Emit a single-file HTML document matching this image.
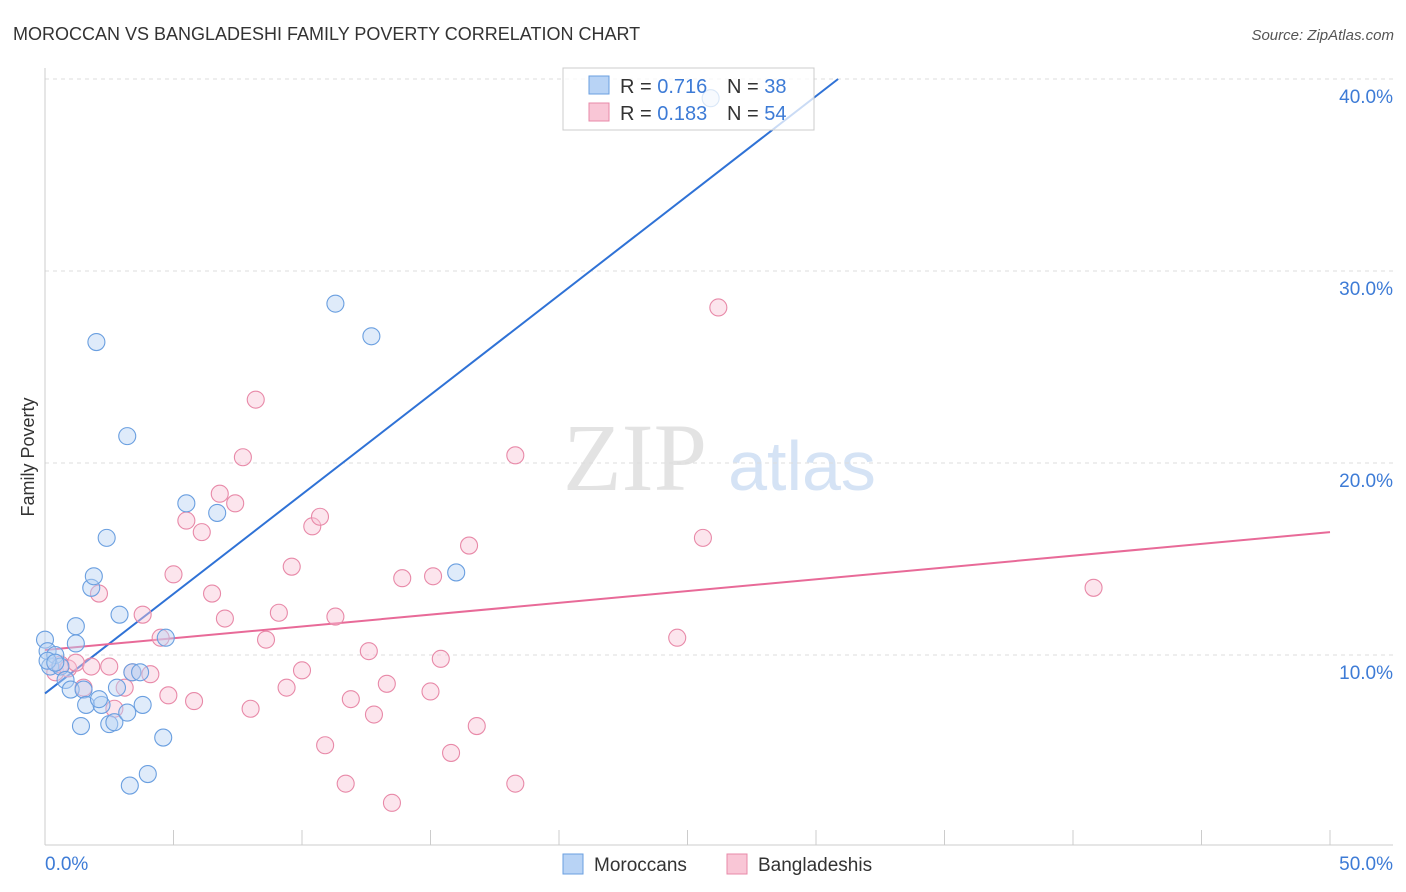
<!DOCTYPE html>
<html><head><meta charset="utf-8"><style>
body{margin:0;background:#fff;font-family:"Liberation Sans",sans-serif;}
svg{display:block}
</style></head><body>
<svg id="chart" width="1406" height="892">
<text x="13" y="40" font-size="18" fill="#333">MOROCCAN VS BANGLADESHI FAMILY POVERTY CORRELATION CHART</text>
<text x="1394" y="40" font-size="15" fill="#555" font-style="italic" text-anchor="end">Source: ZipAtlas.com</text>
<text x="34" y="457" font-size="18" fill="#333" transform="rotate(-90 34 457)" text-anchor="middle">Family Poverty</text>
<g>
<text x="635" y="490" font-size="96" fill="#e3e3e3" font-family="Liberation Serif,serif" text-anchor="middle">ZIP</text>
<text x="802" y="490" font-size="70" fill="#d5e3f5" text-anchor="middle">atlas</text>
</g>
<g id="grid"></g><g id="axes"></g><g id="lines"></g><g id="pts"></g>
<g>
<rect x="563" y="68" width="251" height="62" fill="#fff" fill-opacity="0.75" stroke="#ccc"/>
<rect x="589" y="76" width="20" height="18" fill="#b8d3f5" stroke="#6a9fe0"/>
<rect x="589" y="103" width="20" height="18" fill="#f9c6d6" stroke="#e889a8"/>
<text x="620" y="93" font-size="20" fill="#333">R = <tspan fill="#3d7bd6">0.716</tspan></text>
<text x="727" y="93" font-size="20" fill="#333">N = <tspan fill="#3d7bd6">38</tspan></text>
<text x="620" y="120" font-size="20" fill="#333">R = <tspan fill="#3d7bd6">0.183</tspan></text>
<text x="727" y="120" font-size="20" fill="#333">N = <tspan fill="#3d7bd6">54</tspan></text>
</g>
<g>
<rect x="563" y="854" width="20" height="20" fill="#b8d3f5" stroke="#6a9fe0"/>
<text x="594" y="871" font-size="19" fill="#333">Moroccans</text>
<rect x="727" y="854" width="20" height="20" fill="#f9c6d6" stroke="#e889a8"/>
<text x="758" y="871" font-size="19" fill="#333">Bangladeshis</text>
</g>
</svg>
<script>
const blueX=[0.0,0.1,0.2,0.4,0.6,0.8,1.0,1.2,1.2,1.4,1.5,1.6,1.8,1.9,2.0,2.2,2.4,2.5,2.7,2.8,2.9,3.2,3.2,3.3,3.4,3.7,3.8,4.0,4.6,4.7,5.5,6.7,11.3,12.7,16.0,0.1,2.1,0.4,25.9];
const blueY=[10.8,10.2,9.4,10.0,9.4,8.7,8.2,10.6,11.5,6.3,8.2,7.4,13.5,14.1,26.3,7.4,16.1,6.4,6.5,8.3,12.1,21.4,7.0,3.2,9.1,9.1,7.4,3.8,5.7,10.9,17.9,17.4,28.3,26.6,14.3,9.7,7.7,9.6,39.0];
const pinkX=[0.4,0.6,0.9,1.2,1.5,1.8,2.1,2.5,2.7,3.1,3.4,3.8,4.1,4.5,4.8,5.0,5.5,5.8,6.1,6.5,6.8,7.0,7.4,7.7,8.0,8.2,8.6,9.1,9.4,9.6,10.0,10.4,10.7,10.9,11.3,11.7,11.9,12.6,12.8,13.3,13.5,13.9,15.0,15.1,15.4,15.8,16.5,16.8,18.3,18.3,24.6,25.6,26.2,40.8];
const pinkY=[9.1,9.5,9.3,9.6,8.3,9.4,13.2,9.4,7.2,8.3,9.1,12.1,9.0,10.9,7.9,14.2,17.0,7.6,16.4,13.2,18.4,11.9,17.9,20.3,7.2,23.3,10.8,12.2,8.3,14.6,9.2,16.7,17.2,5.3,12.0,3.3,7.7,10.2,6.9,8.5,2.3,14.0,8.1,14.1,9.8,4.9,15.7,6.3,20.4,3.3,10.9,16.1,28.1,13.5];
const blueLine=[0,8.0,30.86,40.0];
const pinkLine=[0,10.26,50,16.4];
const yTicks=[10,20,30,40];
const xTicks=[0,5,10,15,20,25,30,35,40,45,50];
const NS="http://www.w3.org/2000/svg";
const sx=v=>45+v*25.7, sy=v=>847-v*19.2;
function mk(p,t,a){const e=document.createElementNS(NS,t);for(const k in a)e.setAttribute(k,a[k]);p.appendChild(e);return e;}
const grid=document.getElementById('grid'),axes=document.getElementById('axes'),lines=document.getElementById('lines'),pts=document.getElementById('pts');
yTicks.forEach(t=>{
 const l=mk(grid,'line',{x1:45,x2:1393,y1:sy(t),y2:sy(t),stroke:'#ddd','stroke-dasharray':'4,4'});
 
 
 const tx=mk(axes,'text',{x:1393,y:sy(t)+24,'font-size':19,fill:'#3d7bd6','text-anchor':'end'});
 tx.textContent=t.toFixed(1)+'%';
 
 
});
const ax=mk(axes,'line',{x1:45,x2:1393,y1:845,y2:845,stroke:'#ccc'});


const ay=mk(axes,'line',{x1:45,x2:45,y1:68,y2:845,stroke:'#ccc'});


xTicks.forEach(t=>{
 const l=mk(axes,'line',{x1:sx(t),x2:sx(t),y1:830,y2:845,stroke:'#ccc'});
 
 
});
[[0,'start',45],[50,'end',1393]].forEach(([v,a,x])=>{
 const tx=mk(axes,'text',{x:x,y:870,'font-size':19,fill:'#3d7bd6','text-anchor':a});
 tx.textContent=v.toFixed(1)+'%';
 
 
});
function pt(xs,ys,fill,stroke,name){
 xs.forEach((x,i)=>{
  const c=mk(pts,'circle',{cx:sx(x),cy:sy(ys[i]),r:8.5,fill:fill,'fill-opacity':0.45,stroke:stroke,'stroke-width':1.1});
  
  
 });
}
pt(pinkX,pinkY,'#f9c6d6','#e889a8','bangladeshi-point');
pt(blueX,blueY,'#b8d3f5','#6a9fe0','moroccan-point');
const bl=mk(lines,'line',{x1:sx(blueLine[0]),y1:sy(blueLine[1]),x2:sx(blueLine[2]),y2:sy(blueLine[3]),stroke:'#2f72d6','stroke-width':2});


const pl=mk(lines,'line',{x1:sx(pinkLine[0]),y1:sy(pinkLine[1]),x2:sx(pinkLine[2]),y2:sy(pinkLine[3]),stroke:'#e86a98','stroke-width':2});


</script>
</body></html>
